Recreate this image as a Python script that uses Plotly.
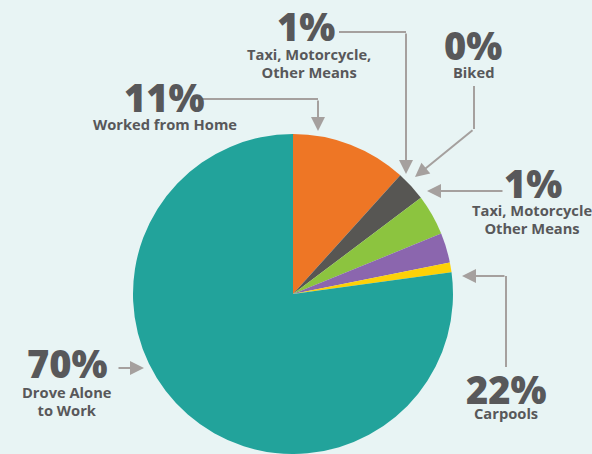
import plotly.graph_objects as go

# Commute mode shares shown as slices (clockwise from 12 o'clock)
slice_names = ["Worked from Home", "Taxi, Motorcycle, Other Means", "Biked",
               "Other Means", "Walked", "Drove Alone / Carpools"]
slice_values = [11.7, 3.05, 4.1, 3.0, 1.0, 77.2]
slice_colors = ["#EE7625", "#575653", "#8CC43F", "#8B66AE", "#FDD107", "#22A39B"]

# Callout texts
callout_values = ["1%", "0%", "1%", "11%", "70%", "22%"]
callout_labels = [["Taxi, Motorcycle,", "Other Means"], ["Biked"],
                  ["Taxi, Motorcycle", "Other Means"], ["Worked from Home"],
                  ["Drove Alone", "to Work"], ["Carpools"]]

W, H = 592, 454
BG = "#E8F4F4"
TXT = "#58585A"
LINE = "#A5A09E"

NUM_SIZE = 38
LAB_SIZE = 14.7
LAB_LINE = 17.7          # distance between label baselines


def px(x):
    return x / W


def py(y):
    return 1 - y / H


fig = go.Figure()
fig.add_trace(go.Pie(
    labels=slice_names, values=slice_values, sort=False,
    direction="clockwise", rotation=0,
    marker=dict(colors=slice_colors, line=dict(width=0)),
    textinfo="none", hoverinfo="label+percent", showlegend=False,
    domain=dict(x=[px(133), px(453)], y=[py(454), py(134)]),
))

# (centre x, baseline y) of each big number and of each label's first line
num_pos = [(306, 40.5), (473, 59.5), (533, 198), (164, 111.5), (67.5, 377.5), (506, 404)]
lab_pos = [(309, 60), (473, 78), (532, 216), (165, 129.7), (67, 397.3), (506, 419)]

annotations = []
for (nx, ny), (lx, ly), v, lab in zip(num_pos, lab_pos, callout_values, callout_labels):
    annotations.append(dict(
        x=px(nx), y=py(ny - 1.069 * NUM_SIZE - 2), xref="paper", yref="paper",
        text=v, showarrow=False,
        font=dict(family="Open Sans", size=NUM_SIZE, color=TXT, weight=800),
        xanchor="center", yanchor="top"))
    # line pitch comes from the base size (1.3em); glyphs use LAB_SIZE
    lab_text = "<br>".join(f"<span style='font-size:{LAB_SIZE}px'>{s}</span>" for s in lab)
    annotations.append(dict(
        x=px(lx), y=py(ly - 1.069 * LAB_SIZE - 2), xref="paper", yref="paper",
        text=lab_text, showarrow=False,
        font=dict(family="Open Sans", size=LAB_LINE / 1.3, color=TXT, weight=700),
        xanchor="center", yanchor="top", align="center"))

# Leader lines: polyline bends, final segment ends in an arrowhead
leaders = [
    [(339, 32), (406, 32), (406, 174)],
    [(474, 86), (474, 129), (415, 177)],
    [(504, 191), (427, 191)],
    [(202, 99), (318, 99), (318, 131)],
    [(117, 368), (144, 368)],
    [(506, 367), (506, 276), (462, 276)],
]

shapes = []
for pts in leaders:
    if len(pts) > 2:
        path = "M " + " L ".join(f"{px(x)},{py(y)}" for x, y in pts[:-1])
        shapes.append(dict(type="path", path=path, xref="paper", yref="paper",
                           line=dict(color=LINE, width=2)))
    (x0, y0), (x1, y1) = pts[-2], pts[-1]
    annotations.append(dict(
        x=px(x1), y=py(y1), xref="paper", yref="paper",
        ax=x0 - x1, ay=y0 - y1, text="", showarrow=True,
        arrowhead=2, arrowsize=1.4, arrowwidth=2, arrowcolor=LINE))

fig.update_layout(
    width=W, height=H, margin=dict(l=0, r=0, t=0, b=0),
    paper_bgcolor=BG, plot_bgcolor=BG,
    annotations=annotations, shapes=shapes,
)

fig.write_html("out.html")
